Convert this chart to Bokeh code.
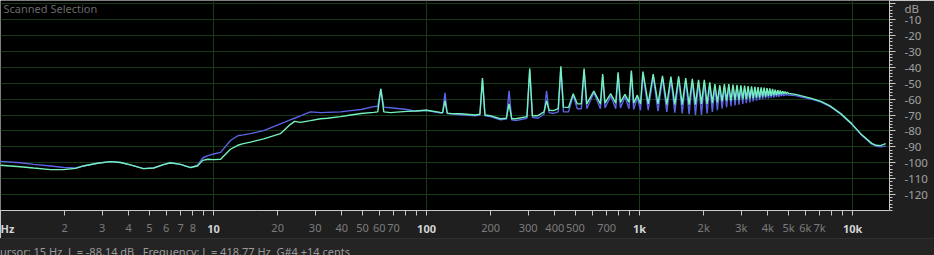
from bokeh.plotting import figure
from bokeh.models import FixedTicker, Label, Div, LogAxis
from bokeh.layouts import column
from bokeh.embed import file_html
from bokeh.resources import INLINE

# ---------------- data ----------------
# broadband part + low harmonics (Hz, dB)
low_hz = [1.0, 1.24, 1.43, 1.72, 1.98, 2.25, 2.45, 2.85, 3.28, 3.66, 4.07, 4.69, 5.23, 5.82,
          6.27, 7.0, 7.8, 8.4, 8.9, 9.4, 10.0, 10.8, 12.0, 13.0, 13.8, 14.9, 17.2, 20.6,
          22.9, 24.0, 25.6, 28.5, 31.8, 34.2, 39.5, 44.1, 49.2, 56.5, 59.0, 61.0, 63.0,
          67.7, 75.0, 80.9, 88.6, 100, 116, 119, 122, 125, 130, 144, 169, 178, 183, 188,
          199, 222, 237, 244, 251, 262, 296, 305, 314, 333, 356, 366, 376, 394, 415, 427,
          439, 464, 488, 510, 533, 549, 565, 610, 655, 671, 688, 732, 773, 793, 813, 854,
          892, 915, 938, 976, 1010, 1037]
low_green_db = [-101.6, -102.5, -103.3, -104.3, -104.3, -103.5, -102.0, -100.3, -99.3, -99.8,
                -101.3, -103.7, -103.3, -101.2, -100.0, -101.0, -103.0, -102.0, -98.5, -97.8,
                -98.0, -97.8, -91.5, -89.0, -88.0, -87.0, -85.0, -81.7, -76.0, -74.0, -74.6,
                -73.5, -72.3, -72.0, -71.0, -70.0, -69.0, -68.3, -68.0, -53.6, -68.0, -68.5,
                -68.0, -67.7, -67.5, -67.0, -68.3, -68.5, -61.0, -68.8, -69.0, -69.2, -70.0,
                -69.5, -46.7, -70.0, -70.4, -72.3, -72.0, -63.0, -72.3, -72.3, -71.0, -40.7,
                -70.4, -70.4, -68.0, -61.0, -67.0, -67.2, -66.0, -39.4, -65.0, -65.2, -56.6,
                -63.0, -63.0, -40.7, -63.0, -55.0, -63.0, -44.2, -62.5, -56.6, -62.5, -43.2,
                -62.0, -57.0, -62.0, -42.1, -62.5, -57.5, -63.0, -42.7]
low_blue_db = [-99.1, -100.0, -101.0, -102.0, -103.0, -103.3, -102.0, -100.3, -99.3, -99.8,
               -101.3, -103.7, -103.3, -101.2, -100.0, -101.0, -103.0, -101.5, -97.0, -95.5,
               -94.5, -93.5, -86.0, -83.0, -82.5, -81.7, -79.8, -75.5, -73.0, -72.0, -70.5,
               -68.0, -68.5, -68.3, -68.0, -67.2, -66.5, -64.7, -64.5, -53.6, -65.0, -65.4,
               -66.0, -66.5, -67.5, -67.0, -68.8, -68.8, -56.1, -69.0, -69.2, -69.8, -70.5,
               -70.0, -48.0, -70.5, -71.0, -73.0, -72.5, -54.7, -73.0, -73.5, -72.0, -42.0,
               -71.5, -72.0, -69.5, -54.7, -68.5, -69.0, -68.0, -40.5, -68.0, -68.0, -57.5,
               -66.0, -66.0, -42.0, -66.0, -56.0, -66.0, -45.5, -65.5, -58.0, -66.0, -44.5,
               -65.5, -58.5, -66.0, -43.5, -66.5, -59.0, -67.0, -44.0]

# harmonic comb 1.1 kHz - 5 kHz: valleys (even harmonics) and peaks (odd harmonics)
comb_valley_hz = [1098, 1220, 1342, 1464, 1586, 1708, 1830, 1952, 2074, 2196, 2318, 2440,
                  2562, 2684, 2806, 2928, 3050, 3172, 3294, 3416, 3538, 3660, 3782, 3904,
                  4026, 4148, 4270, 4392, 4514, 4636, 4758, 4880, 5002]
comb_valley_green_db = [-63.0, -63.0, -63.5, -63.5, -63.5, -63.5, -63.5, -63.0, -63.0, -62.5,
                        -62.0, -61.5, -61.0, -61.0, -60.5, -60.5, -60.0, -60.0, -59.5, -59.5,
                        -59.0, -59.0, -58.5, -58.5, -58.0, -58.0, -57.5, -57.5, -57.0, -57.0,
                        -56.5, -56.5, -56.5]
comb_valley_blue_db = [-67.0, -67.5, -68.0, -68.5, -69.0, -69.5, -70.0, -70.0, -69.0, -68.0,
                       -67.0, -66.0, -65.0, -64.5, -64.0, -63.5, -63.0, -62.5, -62.0, -61.5,
                       -61.0, -60.5, -60.0, -59.5, -59.5, -59.0, -59.0, -58.5, -58.5, -58.0,
                       -58.0, -57.5, -57.5]
comb_peak_hz = [1159, 1281, 1403, 1525, 1647, 1769, 1891, 2013, 2135, 2257, 2379, 2501, 2623,
                2745, 2867, 2989, 3111, 3233, 3355, 3477, 3599, 3721, 3843, 3965, 4087, 4209,
                4331, 4453, 4575, 4697, 4819, 4941]
comb_peak_green_db = [-44.2, -45.3, -45.9, -45.7, -46.7, -47.3, -47.8, -47.8, -49.5, -50.5,
                      -51.1, -50.5, -50.5, -50.8, -51.0, -51.3, -51.5, -51.8, -52.0, -52.2,
                      -52.4, -52.6, -52.8, -53.0, -53.3, -53.6, -54.0, -54.3, -54.6, -55.0,
                      -55.3, -55.6]
comb_peak_blue_db = [-45.7, -46.8, -47.4, -47.2, -48.2, -48.8, -49.3, -49.3, -51.0, -52.0,
                     -52.6, -52.0, -52.0, -52.3, -52.5, -52.8, -53.0, -53.3, -53.5, -53.7,
                     -53.9, -54.1, -54.3, -54.5, -54.8, -55.1, -55.5, -55.8, -56.1, -56.5,
                     -56.8, -57.1]

# high roll-off
roll_hz = [5400, 5700, 6400, 7100, 7800, 8800, 9900, 10900, 12300, 12900, 13500, 14300]
roll_green_db = [-57.0, -57.8, -59.5, -61.4, -64.1, -69.1, -75.4, -81.7, -87.8, -89.0, -89.2, -88.0]
roll_blue_db = [-57.8, -58.5, -60.0, -61.8, -64.5, -69.5, -75.8, -82.0, -88.3, -89.6, -90.0, -89.5]

# axis ticks
x_ticks = [1, 2, 3, 4, 5, 6, 7, 8, 9,
           10, 20, 30, 40, 50, 60, 70, 80, 90,
           100, 200, 300, 400, 500, 600, 700, 800, 900,
           1000, 2000, 3000, 4000, 5000, 6000, 7000, 8000, 9000, 10000]
x_tick_text = ["", "2", "3", "4", "5", "6", "7", "8", "",
               "", "20", "30", "40", "50", "60", "70", "", "",
               "", "200", "300", "400", "500", "", "700", "", "",
               "", "2k", "3k", "4k", "5k", "6k", "7k", "", "", ""]
decade_hz = [1, 10, 100, 1000, 10000]
decade_text = ["Hz", "10", "100", "1k", "10k"]
y_ticks = [0, -10, -20, -30, -40, -50, -60, -70, -80, -90, -100, -110, -120]
y_tick_text = ["dB", "-10", "-20", "-30", "-40", "-50", "-60", "-70", "-80", "-90", "-100", "-110", "-120"]
y_minor = list(range(0, -132, -2))

# --------------- assemble the comb polyline ----------------
comb_hz, comb_g, comb_b = [], [], []
for i, vh in enumerate(comb_valley_hz):
    comb_hz.append(vh); comb_g.append(comb_valley_green_db[i]); comb_b.append(comb_valley_blue_db[i])
    if i < len(comb_peak_hz):
        comb_hz.append(comb_peak_hz[i]); comb_g.append(comb_peak_green_db[i]); comb_b.append(comb_peak_blue_db[i])

freq = low_hz + comb_hz + roll_hz
green = low_green_db + comb_g + roll_green_db
blue = low_blue_db + comb_b + roll_blue_db

FONT = "Noto Sans"
GRID = "#173a17"
Y_MIN, Y_MAX = -130, 2

p = figure(frame_width=889, frame_height=210, x_axis_type="log", y_axis_location="right",
           x_range=(1, 14900), y_range=(Y_MIN, Y_MAX), output_backend="svg", toolbar_location=None,
           min_border_left=0, min_border_top=0, min_border_right=45, min_border_bottom=25)
p.background_fill_color = "#000000"
p.border_fill_color = "#1f1f1f"
p.outline_line_color = None

# grids
p.xgrid.ticker = FixedTicker(ticks=decade_hz)
p.xgrid.grid_line_color = GRID
p.ygrid.ticker = FixedTicker(ticks=y_ticks)
p.ygrid.grid_line_color = GRID

# x axis: all ticks, grey labels
xa = p.xaxis[0]
xa.ticker = FixedTicker(ticks=x_ticks, minor_ticks=[])
xa.major_label_overrides = {t: s for t, s in zip(x_ticks, x_tick_text)}
xa.axis_line_color = "#c8c8c8"
xa.major_tick_line_color = "#c8c8c8"
xa.major_tick_out = 5
xa.major_tick_in = 0
xa.minor_tick_line_color = None
xa.major_label_text_color = "#7c7c7c"
xa.major_label_text_font = FONT
xa.major_label_text_font_size = "11px"
xa.major_label_standoff = 4

# second x axis stacked under the first: bold decade labels lifted into the same row
xb = LogAxis(ticker=FixedTicker(ticks=decade_hz, minor_ticks=[]),
             major_label_overrides={t: s for t, s in zip(decade_hz, decade_text)})
xb.axis_line_color = None
xb.major_tick_line_color = None
xb.minor_tick_line_color = None
xb.major_tick_out = 0
xb.major_tick_in = 0
xb.major_label_standoff = -17
xb.major_label_text_color = "#d4d4d4"
xb.major_label_text_font = FONT
xb.major_label_text_font_size = "11px"
xb.major_label_text_font_style = "bold"
p.add_layout(xb, "below")

# y axis (right)
ya = p.yaxis[0]
ya.ticker = FixedTicker(ticks=y_ticks, minor_ticks=y_minor)
ya.major_label_overrides = {t: s for t, s in zip(y_ticks, y_tick_text)}
ya.axis_line_color = "#c8c8c8"
ya.major_tick_line_color = "#c8c8c8"
ya.minor_tick_line_color = "#c8c8c8"
ya.major_tick_out = 6
ya.major_tick_in = 0
ya.minor_tick_out = 3
ya.minor_tick_in = 0
ya.major_label_text_color = "#a0a0a0"
ya.major_label_text_font = FONT
ya.major_label_text_font_size = "11.5px"
ya.major_label_standoff = 9

# spectra
p.line(freq, blue, line_color="#5a64e4", line_width=1.4)
p.line(freq, green, line_color="#74f2bc", line_width=1.4)

p.add_layout(Label(x=3, y=202, x_units="screen", y_units="screen", text="Scanned Selection",
                   text_align="left", text_baseline="middle", text_font=FONT,
                   text_font_size="11px", text_color="#6a6a6a"))

status = Div(text="Cursor: 15 Hz  L = -88.14 dB   Frequency: L = 418.77 Hz  G#4 +14 cents",
             width=934, height=20, margin=0,
             styles={"background-color": "#242424", "color": "#9a9a9a", "font-family": FONT,
                     "font-size": "11px", "white-space": "pre", "line-height": "25px",
                     "text-indent": "-7px", "overflow": "hidden",
                     "border-top": "1px solid #2e2e2e"})

layout = column(p, status, spacing=0, margin=0)
open("out.html", "w").write(file_html(layout, INLINE))
